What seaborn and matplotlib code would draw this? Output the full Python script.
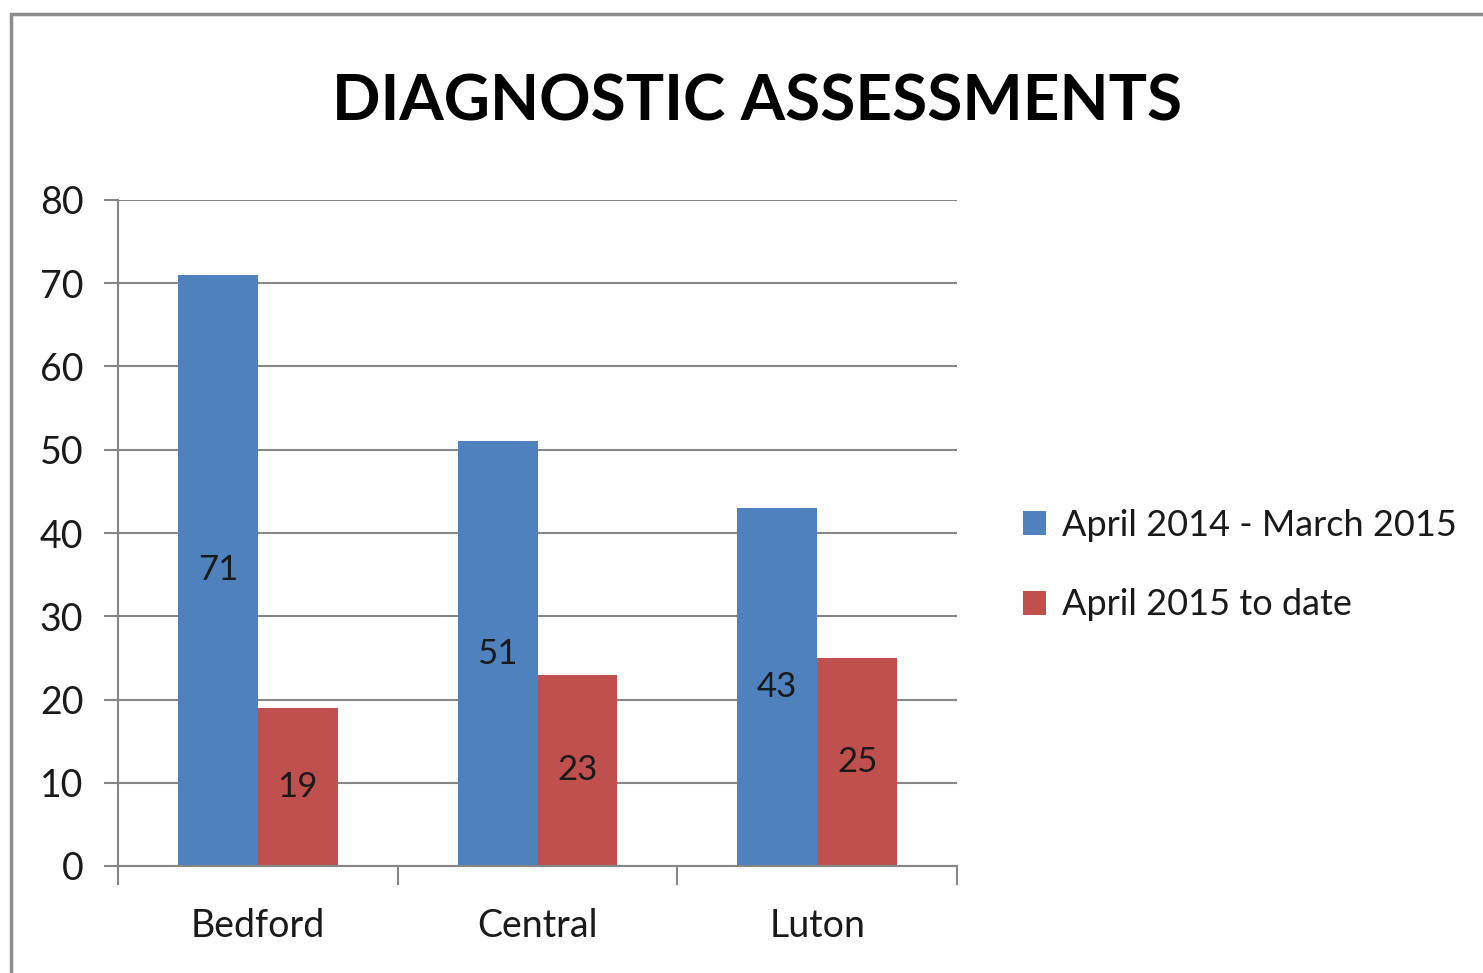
import numpy as np
import pandas as pd
import matplotlib
matplotlib.use("Agg")
import matplotlib.pyplot as plt
import seaborn as sns
from matplotlib.patches import Rectangle

# chart data
areas = ["Bedford", "Central", "Luton"]
periods = ["April 2014 - March 2015", "April 2015 to date"]
last_year = [71, 51, 43]
this_year = [19, 23, 25]
colors = ["#4F81BD", "#C0504D"]

df = pd.DataFrame({
    "Area": areas * 2,
    "Period": [periods[0]] * 3 + [periods[1]] * 3,
    "Count": last_year + this_year,
})

sns.set_style("white")
plt.rcParams["font.family"] = ["Lato", "DejaVu Sans"]

fig = plt.figure(figsize=(14.83, 9.73), dpi=100)
ax = fig.add_axes([118 / 1483, 1 - 866 / 973, (957 - 118) / 1483, (866 - 200) / 973])

sns.barplot(data=df, x="Area", y="Count", hue="Period", palette=colors,
            width=0.571, saturation=1, linewidth=0, ax=ax, legend=True)

grid_col = "#868686"
text_col = "#1a1a1a"

for cont in ax.containers:
    ax.bar_label(cont, label_type="center", fontsize=25, color=text_col)

ax.set_ylim(0, 80)
ax.set_xlim(-0.5, 2.5)
ax.set_yticks(range(0, 81, 10))
ax.yaxis.grid(True, color=grid_col, linewidth=1.5)
ax.set_axisbelow(True)
ax.set_xlabel("")
ax.set_ylabel("")

for side in ["top", "right"]:
    ax.spines[side].set_visible(False)
for side in ["left", "bottom"]:
    ax.spines[side].set_color(grid_col)
    ax.spines[side].set_linewidth(1.5)

ax.tick_params(axis="y", which="major", length=10, width=1.5, color=grid_col,
               pad=15, labelsize=27, labelcolor=text_col, left=True)
ax.tick_params(axis="x", which="major", length=0, pad=30, labelsize=27,
               labelcolor=text_col)
ax.set_xticks([-0.5, 0.5, 1.5, 2.5], minor=True)
ax.tick_params(axis="x", which="minor", length=14, width=1.5, color=grid_col,
               bottom=True, direction="out")

handles, labels = ax.get_legend_handles_labels()
ax.get_legend().remove()
fig.legend(handles, labels, loc="center left",
           bbox_to_anchor=(990 / 1483, 1 - 565 / 973), frameon=False,
           fontsize=26, handlelength=0.65, handleheight=0.65, handletextpad=0.45,
           labelspacing=1.3, labelcolor=text_col)

fig.text(757 / 1483, 1 - 102 / 973, "DIAGNOSTIC ASSESSMENTS", ha="center",
         va="center", fontsize=46, fontweight="bold", color="black")

# chart border, running off the right and bottom edges
fig.patches.append(Rectangle((11 / 1483, -0.5), 2, 0.5 + (1 - 14 / 973),
                             transform=fig.transFigure, fill=False,
                             edgecolor="#8c8c8c", linewidth=2.5))

fig.savefig("out.png", dpi=100, facecolor="white")
